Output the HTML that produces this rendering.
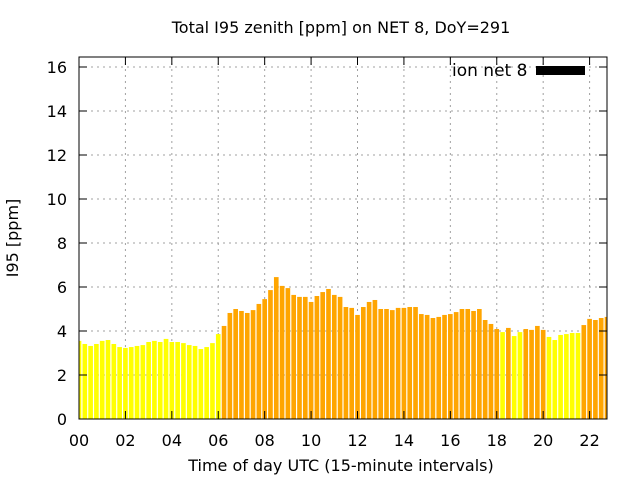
<!DOCTYPE html>
<html><head><meta charset="utf-8"><style>
html,body{margin:0;padding:0;background:#fff;}
svg{display:block;font-family:"DejaVu Sans","Liberation Sans",sans-serif;}
</style></head><body>
<svg id="chart" width="640" height="480" viewBox="0 0 640 480" xmlns="http://www.w3.org/2000/svg">
<rect width="640" height="480" fill="#fff"/>
<text x="341" y="33" font-size="16" text-anchor="middle">Total I95 zenith [ppm] on NET 8, DoY=291</text>
<text x="341" y="471" font-size="16" text-anchor="middle">Time of day UTC (15-minute intervals)</text>
<text transform="translate(18,238) rotate(-90)" font-size="16" text-anchor="middle">I95 [ppm]</text>
<g id="grid"></g><g id="bars"></g><g id="axes"></g>
<text x="452" y="76" font-size="17">ion net 8</text>
<rect x="536" y="66" width="49" height="9" fill="#000"/>
</svg>
<script>
const values = [3.55,3.41,3.32,3.41,3.55,3.59,3.41,3.27,3.23,3.27,3.32,3.36,3.5,3.55,3.5,3.64,3.5,3.5,3.45,3.36,3.32,3.18,3.27,3.45,3.86,4.23,4.82,5.0,4.91,4.82,4.95,5.23,5.45,5.86,6.45,6.05,5.95,5.64,5.55,5.55,5.32,5.59,5.77,5.91,5.64,5.55,5.09,5.05,4.73,5.09,5.32,5.41,5.0,5.0,4.95,5.05,5.05,5.09,5.09,4.77,4.73,4.59,4.64,4.73,4.77,4.86,5.0,5.0,4.91,5.0,4.5,4.32,4.09,3.95,4.14,3.77,3.95,4.09,4.05,4.23,4.05,3.73,3.59,3.82,3.86,3.91,3.91,4.27,4.55,4.5,4.59,4.64];
const yTicks = [0,2,4,6,8,10,12,14,16];
const xTicks = [0,2,4,6,8,10,12,14,16,18,20,22];
const xTickLabels = ["00","02","04","06","08","10","12","14","16","18","20","22"];
const threshold = 4;
const L=79,R=607,T=57,B=419,xMin=0,xMax=22.75,yMax=(B-T)/22;
const X=h=>L+(h-xMin)/(xMax-xMin)*(R-L);
const Y=v=>B-v/yMax*(B-T);
const NS="http://www.w3.org/2000/svg";
function mk(p,tag,at){const e=document.createElementNS(NS,tag);for(const k in at)e.setAttribute(k,at[k]);p.appendChild(e);return e;}
const grid=document.getElementById('grid'),bars=document.getElementById('bars'),axes=document.getElementById('axes');
yTicks.forEach(v=>{const y=Y(v);
 if(v>0){const g=mk(grid,'line',{x1:L,x2:R,y1:y,y2:y,stroke:'#a0a0a0','stroke-dasharray':'2,4'});
 
 }
 mk(axes,'line',{x1:L,x2:L+8,y1:y,y2:y,stroke:'#000'});mk(axes,'line',{x1:R-8,x2:R,y1:y,y2:y,stroke:'#000'});
 const t=mk(axes,'text',{x:L-12,y:y+6,'font-size':16,'text-anchor':'end'});t.textContent=v;
 
 });
xTicks.forEach((h,i)=>{const x=X(h);
 if(h>0){const g=mk(grid,'line',{x1:x,x2:x,y1:T,y2:B,stroke:'#a0a0a0','stroke-dasharray':'2,4'});
 
 }
 mk(axes,'line',{x1:x,x2:x,y1:B,y2:B-8,stroke:'#000'});mk(axes,'line',{x1:x,x2:x,y1:T,y2:T+8,stroke:'#000'});
 const t=mk(axes,'text',{x:x,y:446,'font-size':16,'text-anchor':'middle'});t.textContent=xTickLabels[i];
 
 });
const bw=(R-L)/(xMax-xMin)/4*0.8;
values.forEach((v,i)=>{const c=X(i/4);let x0=Math.max(L,c-bw/2),x1=Math.min(R,c+bw/2);
 const b=mk(bars,'rect',{x:x0,y:Y(v),width:x1-x0,height:B-Y(v),fill:v>=threshold?'#ffa500':'#ffff00'});
 
 });
const fr=mk(axes,'rect',{x:L,y:T,width:R-L,height:B-T,fill:'none',stroke:'#000'});


</script>
</body></html>
